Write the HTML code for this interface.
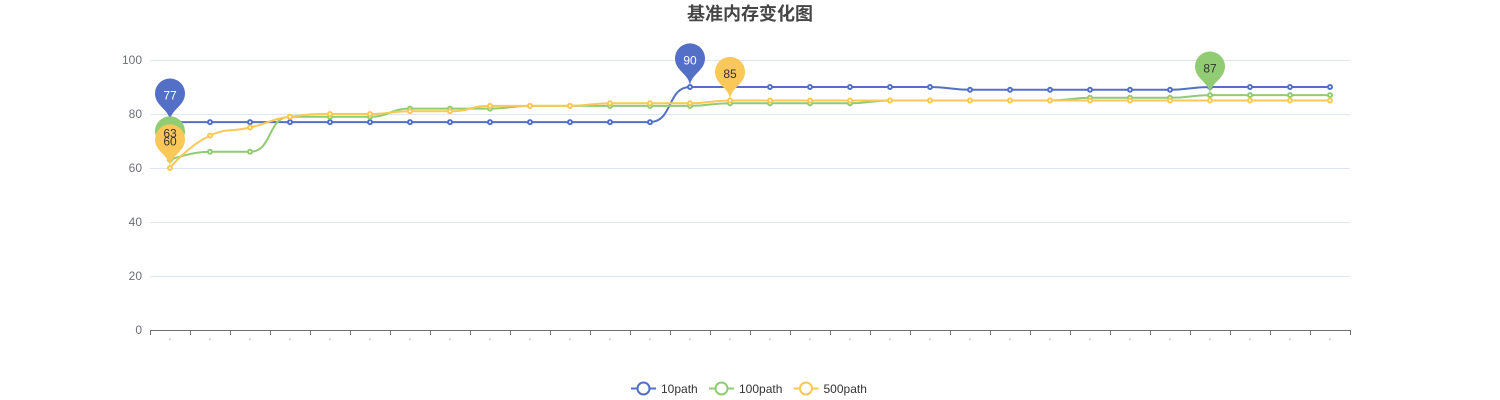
<!DOCTYPE html>
<html>
<head>
<meta charset="utf-8">
<style>
html,body{margin:0;padding:0;background:#fff;width:1500px;height:400px;overflow:hidden}
svg{display:block}
text{font-family:"Liberation Sans","Noto Sans CJK SC",sans-serif}
</style>
</head>
<body>
<svg id="chart" width="1500" height="400" viewBox="0 0 1500 400" xmlns="http://www.w3.org/2000/svg">
<text x="750" y="20" text-anchor="middle" font-size="18" font-weight="bold" fill="#464646">基准内存变化图</text>
</svg>
<script>
const categories = ["'","'","'","'","'","'","'","'","'","'","'","'","'","'","'","'","'","'","'","'","'","'","'","'","'","'","'","'","'","'"];
const yTicks = [0, 20, 40, 60, 80, 100];
const seriesNames = ["10path", "100path", "500path"];
const seriesColors = ["#5470c6", "#91cc75", "#fac858"];
const values10 = [77,77,77,77,77,77,77,77,77,77,77,77,77,90,90,90,90,90,90,90,89,89,89,89,89,89,90,90,90,90];
const values100 = [63,66,66,79,79,79,82,82,82,83,83,83,83,83,84,84,84,84,85,85,85,85,85,86,86,86,87,87,87,87];
const values500 = [60,72,75,79,80,80,81,81,83,83,83,84,84,84,85,85,85,85,85,85,85,85,85,85,85,85,85,85,85,85];
const seriesValues = [values10, values100, values500];

const NS = 'http://www.w3.org/2000/svg';
const svg = document.getElementById('chart');
const left = 150, right = 1350, top0 = 60, bottom = 330, yMax = 100;
const xPos = i => left + (right - left) * (i + 0.5) / categories.length;
const xEdge = i => left + (right - left) * i / categories.length;
const yPos = v => bottom - (bottom - top0) * v / yMax;
function mk(tag, attrs, parent) {
  const e = document.createElementNS(NS, tag);
  for (const k in attrs) e.setAttribute(k, attrs[k]);
  (parent || svg).appendChild(e);
  return e;
}
/* y axis */
yTicks.forEach(t => {
  const y = Math.round(yPos(t)) + 0.5;
  if (t !== 0) {
    const g = mk('line', {x1: left, x2: right, y1: y, y2: y, stroke: '#E0E6F1', 'stroke-width': 1});
    
    
  }
  const l = mk('text', {x: 142, y: yPos(t) + 4, 'text-anchor': 'end', 'font-size': 12, fill: '#6E7079'});
  
  
  l.textContent = t;
});
/* x axis */
const axis = mk('line', {x1: left, x2: right, y1: bottom + 0.5, y2: bottom + 0.5, stroke: '#6E7079', 'stroke-width': 1});


for (let i = 0; i <= categories.length; i++) {
  const x = Math.round(xEdge(i)) + 0.5;
  const t = mk('line', {x1: x, x2: x, y1: bottom, y2: bottom + 5, stroke: '#6E7079', 'stroke-width': 1});
  
  
}
categories.forEach((c, i) => {
  const l = mk('text', {x: xPos(i), y: 344.3, 'text-anchor': 'middle', 'font-size': 8, fill: '#6E7079'});
  
  
  l.textContent = c;
});
/* echarts-like smooth path */
function smoothPath(pts) {
  const s = 0.5, n = pts.length;
  let d = 'M' + pts[0][0] + ' ' + pts[0][1];
  let cx0 = pts[0][0], cy0 = pts[0][1];
  for (let i = 1; i < n; i++) {
    const [x, y] = pts[i];
    const [px, py] = pts[i - 1];
    let c1x = x, c1y = y, nx0 = x, ny0 = y;
    if (i < n - 1) {
      const [nx, ny] = pts[i + 1];
      let vx = nx - px, vy = ny - py;
      const lp = Math.hypot(x - px, y - py), ln = Math.hypot(nx - x, ny - y);
      const ratio = ln / (ln + lp);
      nx0 = x + vx * s * ratio;
      ny0 = y + vy * s * ratio;
      nx0 = Math.min(nx0, Math.max(nx, x));
      ny0 = Math.min(ny0, Math.max(ny, y));
      nx0 = Math.max(nx0, Math.min(nx, x));
      ny0 = Math.max(ny0, Math.min(ny, y));
      vx = nx0 - x; vy = ny0 - y;
      c1x = x - vx * lp / ln;
      c1y = y - vy * lp / ln;
      c1x = Math.min(c1x, Math.max(px, x));
      c1y = Math.min(c1y, Math.max(py, y));
      c1x = Math.max(c1x, Math.min(px, x));
      c1y = Math.max(c1y, Math.min(py, y));
      vx = x - c1x; vy = y - c1y;
      nx0 = x + vx * ln / lp;
      ny0 = y + vy * ln / lp;
    }
    d += 'C' + cx0 + ' ' + cy0 + ' ' + c1x + ' ' + c1y + ' ' + x + ' ' + y;
    cx0 = nx0; cy0 = ny0;
  }
  return d;
}
/* series */
seriesValues.forEach((vals, si) => {
  const pts = vals.map((v, i) => [xPos(i), yPos(v)]);
  const p = mk('path', {d: smoothPath(pts), fill: 'none', stroke: seriesColors[si], 'stroke-width': 2});
  
  
  pts.forEach(q => {
    const c = mk('circle', {cx: q[0], cy: q[1], r: 2, fill: '#fff', stroke: seriesColors[si], 'stroke-width': 2});
    
    
  });
});
/* pins */
function pinPath(x, y) {
  const w = 30, h = 50, r = w / 2;
  const dy = r * r / (h - r), cy = y - h + r + dy, a = Math.asin(dy / r);
  const dx = Math.cos(a) * r, tx = Math.sin(a), ty = Math.cos(a), c1 = r * 0.6, c2 = r * 0.7;
  return 'M' + (x - dx) + ' ' + (cy + dy) +
    'A' + r + ' ' + r + ' 0 1 1 ' + (x + dx) + ' ' + (cy + dy) +
    'C' + (x + dx - tx * c1) + ' ' + (cy + dy + ty * c1) + ' ' + x + ' ' + (y - c2) + ' ' + x + ' ' + y +
    'C' + x + ' ' + (y - c2) + ' ' + (x - dx + tx * c1) + ' ' + (cy + dy + ty * c1) + ' ' + (x - dx) + ' ' + (cy + dy) + 'Z';
}
const pinKinds = ['max', 'min'];
/* pin shapes first, then every label above all pins */
seriesValues.forEach((vals, si) => {
  pinKinds.forEach(kind => {
    const v = kind === 'max' ? Math.max(...vals) : Math.min(...vals);
    const p = mk('path', {d: pinPath(xPos(vals.indexOf(v)), yPos(v)), fill: seriesColors[si]});
    
    
  });
});
seriesValues.forEach((vals, si) => {
  pinKinds.forEach(kind => {
    const v = kind === 'max' ? Math.max(...vals) : Math.min(...vals);
    const t = mk('text', {x: xPos(vals.indexOf(v)), y: yPos(v) - 22.5, 'text-anchor': 'middle', 'font-size': 12, fill: si === 0 ? '#fff' : '#333'});
    
    
    t.textContent = v;
  });
});
/* legend */
const legendX = [631, 709, 793.5];
seriesNames.forEach((n, si) => {
  const g = mk('g', {});
  
  
  const x = legendX[si], c = seriesColors[si], y = 388.5;
  mk('line', {x1: x, x2: x + 25, y1: y, y2: y, stroke: c, 'stroke-width': 2}, g);
  mk('circle', {cx: x + 12.5, cy: y, r: 6, fill: '#fff', stroke: c, 'stroke-width': 2}, g);
  const t = mk('text', {x: x + 30, y: y + 4.5, 'font-size': 12, fill: '#333'}, g);
  t.textContent = n;
});
</script>
</body>
</html>
